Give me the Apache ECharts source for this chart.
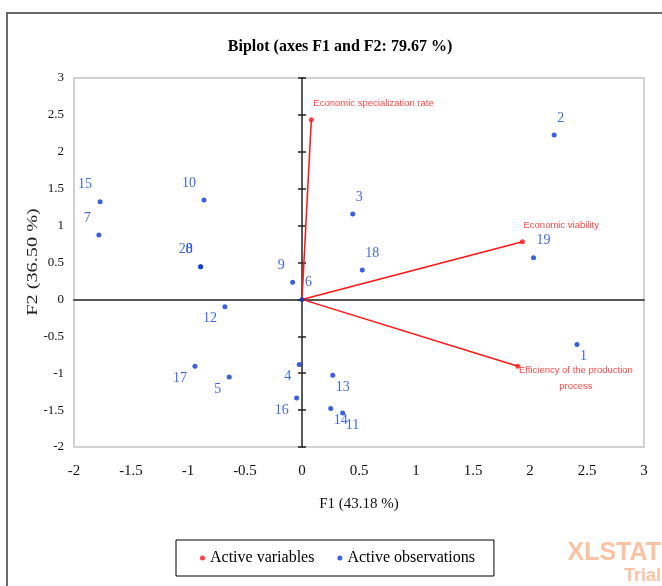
<!DOCTYPE html>
<html>
<head>
<meta charset="utf-8">
<script src="https://cdn.jsdelivr.net/npm/echarts@6/dist/echarts.min.js"></script>
<style>
  html, body { margin: 0; padding: 0; background: #fff; }
  #chart { width: 662px; height: 586px; }
</style>
</head>
<body>
<div id="chart"></div>
<script>
// PCA biplot: observation scores and variable vectors on F1 / F2
const obsNames = ['1', '2', '3', '4', '5', '6', '7', '8', '9', '10',
                  '11', '12', '13', '14', '15', '16', '17', '18', '19', '20'];
const obsF1 = [2.412, 2.212, 0.445, -0.024, -0.638, 0.000, -1.782, -0.889, -0.082, -0.860,
               0.357, -0.676, 0.270, 0.252, -1.771, -0.047, -0.939, 0.529, 2.031, -0.889];
const obsF2 = [-0.611, 2.229, 1.157, -0.882, -1.050, 0.000, 0.872, 0.442, 0.231, 1.347,
               -1.539, -0.100, -1.027, -1.479, 1.324, -1.335, -0.905, 0.398, 0.564, 0.442];

const varNames = ['Economic specialization rate', 'Economic viability',
                  'Efficiency of the production process'];
const varF1 = [0.082, 1.934, 1.894];
const varF2 = [2.433, 0.782, -0.905];

const xTicks = { min: -2, max: 3, step: 0.5 };
const yTicks = { min: -2, max: 3, step: 0.5 };

const titleText = 'Biplot (axes F1 and F2: 79.67 %)';
const xName = 'F1 (43.18 %)';
const yName = 'F2 (36.50 %)';

// where each observation label sits around its dot
const obsCorner = {
  '1': 'LR', '2': 'UR', '3': 'UR', '4': 'LL', '5': 'LL', '6': 'UR', '7': 'UL',
  '8': 'UL', '9': 'UL', '10': 'UL', '11': 'LR', '12': 'LL', '13': 'LR', '14': 'LR',
  '15': 'UL', '16': 'LL', '17': 'LL', '18': 'UR', '19': 'UR', '20': 'UL'
};
const cornerStyle = {
  UL: { align: 'right', offset: [-8, -17] },
  UR: { align: 'left', offset: [3, -17] },
  LL: { align: 'right', offset: [-8, 12] },
  LR: { align: 'left', offset: [3, 12] }
};
const varLabelStyle = [
  { align: 'left', offset: [2, -16], text: varNames[0] },
  { align: 'left', offset: [1, -16], text: varNames[1] },
  { align: 'center', offset: [58, 12], text: 'Efficiency of the production\nprocess' }
];

const SERIF = "'Liberation Serif', 'Times New Roman', serif";
const SANS = "'Liberation Sans', Arial, sans-serif";
const RED = '#ff1414';
const BLUE_DOT = '#0a38d4';
const BLUE_TEXT = '#0f42da';

const obsData = obsNames.map((n, i) => {
  const c = cornerStyle[obsCorner[n]];
  return {
    name: n,
    value: [obsF1[i], obsF2[i]],
    label: { align: c.align, offset: c.offset }
  };
});

const varData = varNames.map((n, i) => ({
  name: n,
  value: [varF1[i], varF2[i]],
  label: {
    align: varLabelStyle[i].align,
    offset: varLabelStyle[i].offset,
    formatter: varLabelStyle[i].text
  }
}));

const vectorData = varNames.map((n, i) => ({ coords: [[0, 0], [varF1[i], varF2[i]]] }));

const chart = echarts.init(document.getElementById('chart'), null, { renderer: 'canvas' });

const grid = { left: 74, right: 18, top: 78, bottom: 139, show: true,
               borderColor: '#d2d2d2', borderWidth: 2, backgroundColor: 'transparent',
               outerBoundsMode: 'none' };

const valueAxisBase = (t) => ({
  type: 'value', min: t.min, max: t.max, interval: t.step,
  splitLine: { show: false }
});

chart.setOption({
  backgroundColor: '#fff',
  animation: false,
  title: {
    text: titleText,
    left: 335, top: 34, textAlign: 'center',
    textStyle: { fontFamily: SERIF, fontSize: 16, fontWeight: 'bold', color: '#000' }
  },
  grid: grid,
  legend: {
    data: [
      { name: 'Active variables', icon: 'circle' },
      { name: 'Active observations', icon: 'circle' }
    ],
    left: 176, top: 540,
    itemWidth: 5, itemHeight: 5, itemGap: 23,
    padding: [10, 19, 10, 24],
    borderColor: '#000', borderWidth: 1,
    textStyle: { fontFamily: SERIF, fontSize: 16, color: '#000' }
  },
  xAxis: [
    Object.assign(valueAxisBase(xTicks), {
      position: 'bottom',
      axisLine: { show: false, onZero: false },
      axisTick: { show: false },
      axisLabel: { fontFamily: SERIF, fontSize: 15, color: '#111', margin: 17 },
      name: xName, nameLocation: 'middle', nameGap: 50,
      nameTextStyle: { fontFamily: SERIF, fontSize: 15, color: '#111' }
    }),
    Object.assign(valueAxisBase(xTicks), {
      axisLine: { show: true, onZero: true, lineStyle: { color: '#555', width: 2 } },
      axisTick: { show: false },
      axisLabel: { show: false }
    })
  ],
  yAxis: [
    Object.assign(valueAxisBase(yTicks), {
      position: 'left',
      axisLine: { show: false, onZero: false },
      axisTick: { show: false },
      axisLabel: { fontFamily: SERIF, fontSize: 13, color: '#111', margin: 10 }
    }),
    Object.assign(valueAxisBase(yTicks), {
      position: 'left',
      axisLine: { show: true, onZero: true, lineStyle: { color: '#222', width: 1.5 } },
      axisTick: { show: true, inside: true, length: 4, lineStyle: { color: '#222', width: 1.5 } },
      axisLabel: { show: false }
    }),
    Object.assign(valueAxisBase(yTicks), {
      position: 'left',
      axisLine: { show: false, onZero: true },
      axisTick: { show: true, inside: false, length: 4, lineStyle: { color: '#222', width: 1.5 } },
      axisLabel: { show: false }
    })
  ],
  graphic: [
    // frame around the whole chart
    { type: 'rect', shape: { x: 7, y: 13, width: 700, height: 700 }, silent: true, z: 0,
      style: { fill: 'none', stroke: '#6a6a6a', lineWidth: 2 } },
    // vertical axis title
    { type: 'text', x: 33, y: 262, rotation: Math.PI / 2, scaleX: 1.45, silent: true,
      style: { text: yName, fontFamily: SERIF, fontSize: 14, fill: '#222',
               align: 'center', verticalAlign: 'middle' } },
    { type: 'text', x: 661, y: 553, silent: true,
      style: { text: 'XLSTAT', fontFamily: SANS, fontSize: 25,
               fontWeight: 'bold', fill: '#fbc3a3', align: 'right', verticalAlign: 'middle' } },
    { type: 'text', x: 661, y: 576, silent: true,
      style: { text: 'Trial', fontFamily: SANS, fontSize: 18,
               fontWeight: 'bold', fill: '#fbc3a3', align: 'right', verticalAlign: 'middle' } }
  ],
  series: [
    {
      name: 'vectors',
      type: 'lines',
      coordinateSystem: 'cartesian2d',
      xAxisIndex: 0, yAxisIndex: 0,
      silent: true,
      lineStyle: { color: RED, width: 1.5, opacity: 1 },
      data: vectorData,
      z: 2
    },
    {
      name: 'Active variables',
      type: 'scatter',
      xAxisIndex: 0, yAxisIndex: 0,
      symbol: 'circle', symbolSize: 5,
      itemStyle: { color: RED },
      label: {
        show: true, position: 'inside', verticalAlign: 'middle',
        fontFamily: SANS, fontSize: 9.5, color: '#ff1414', lineHeight: 16
      },
      data: varData,
      z: 3
    },
    {
      name: 'Active observations',
      type: 'scatter',
      xAxisIndex: 0, yAxisIndex: 0,
      symbol: 'circle', symbolSize: 5,
      itemStyle: { color: BLUE_DOT },
      label: {
        show: true, position: 'inside', verticalAlign: 'middle',
        formatter: '{b}',
        fontFamily: SERIF, fontSize: 14, color: BLUE_TEXT
      },
      data: obsData,
      z: 4
    }
  ]
});
</script>
</body>
</html>
